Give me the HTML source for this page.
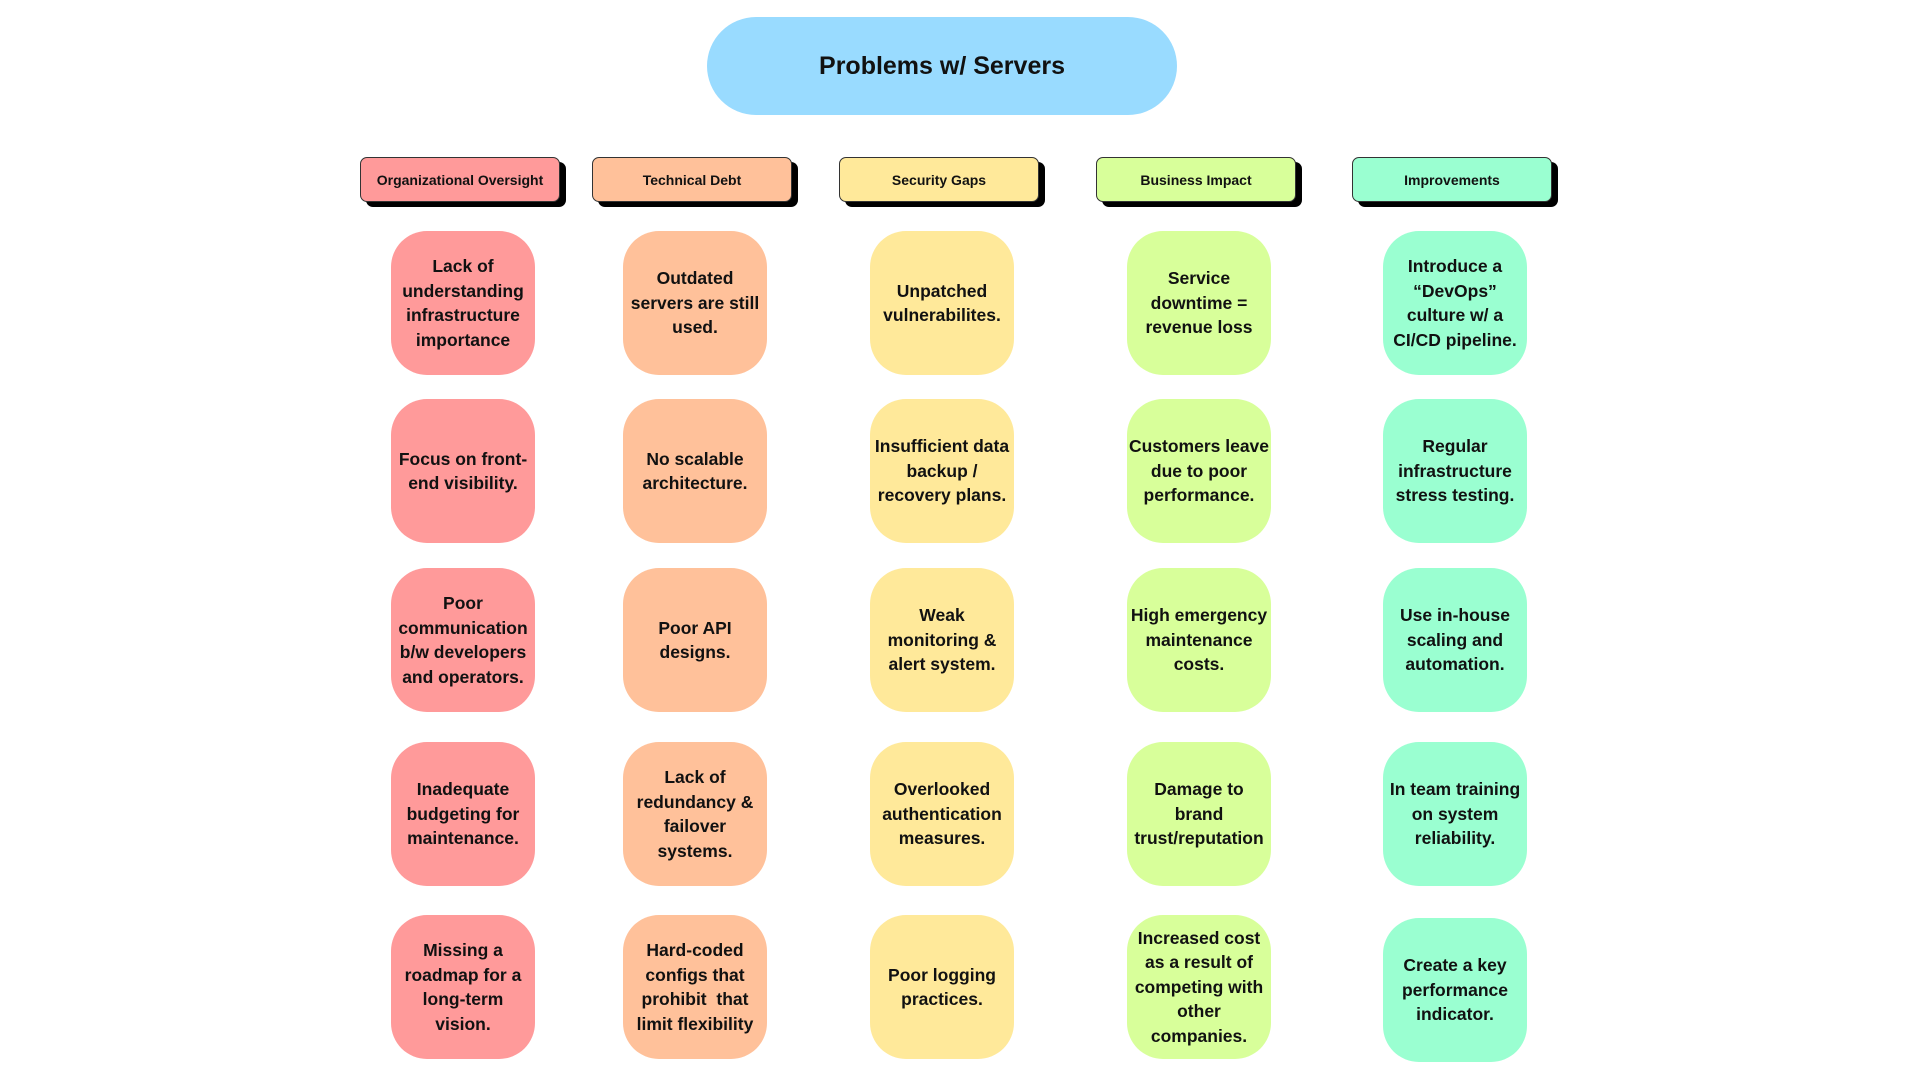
<!DOCTYPE html>
<html><head><meta charset="utf-8"><style>
body{margin:0;width:1920px;height:1080px;background:#fff;position:relative;font-family:"Liberation Sans",sans-serif;font-weight:bold;color:#111;overflow:hidden}
.t{position:absolute;left:707px;top:17px;width:470px;height:98px;border-radius:49px;background:#99dbff;display:flex;align-items:center;justify-content:center;font-size:25px}
.h{position:absolute;top:157px;width:200px;height:45px;border:1px solid #333;border-radius:7px;box-shadow:6px 5px 0 #000;display:flex;align-items:center;justify-content:center;font-size:14px;box-sizing:border-box}
.c{position:absolute;width:144px;height:144px;border-radius:36px;display:flex;align-items:center;justify-content:center;text-align:center;font-size:17.5px;line-height:24.5px;white-space:nowrap}
.r{background:#ff9a9a}.o{background:#ffc19a}.y{background:#ffe99a}.g{background:#d8ff9a}.m{background:#9affd1}
</style></head><body>
<div class="t">Problems w/ Servers</div>
<div class="h r" style="left:360px">Organizational Oversight</div>
<div class="h o" style="left:592px">Technical Debt</div>
<div class="h y" style="left:839px">Security Gaps</div>
<div class="h g" style="left:1096px">Business Impact</div>
<div class="h m" style="left:1352px">Improvements</div>

<div class="c r" style="left:391px;top:231px">Lack of<br>understanding<br>infrastructure<br>importance</div>
<div class="c r" style="left:391px;top:399px">Focus on front-<br>end visibility.</div>
<div class="c r" style="left:391px;top:568px">Poor<br>communication<br>b/w developers<br>and operators.</div>
<div class="c r" style="left:391px;top:742px">Inadequate<br>budgeting for<br>maintenance.</div>
<div class="c r" style="left:391px;top:915px">Missing a<br>roadmap for a<br>long-term<br>vision.</div>

<div class="c o" style="left:623px;top:231px">Outdated<br>servers are still<br>used.</div>
<div class="c o" style="left:623px;top:399px">No scalable<br>architecture.</div>
<div class="c o" style="left:623px;top:568px">Poor API<br>designs.</div>
<div class="c o" style="left:623px;top:742px">Lack of<br>redundancy &amp;<br>failover<br>systems.</div>
<div class="c o" style="left:623px;top:915px">Hard-coded<br>configs that<br>prohibit&nbsp; that<br>limit flexibility</div>

<div class="c y" style="left:870px;top:231px">Unpatched<br>vulnerabilites.</div>
<div class="c y" style="left:870px;top:399px">Insufficient data<br>backup /<br>recovery plans.</div>
<div class="c y" style="left:870px;top:568px">Weak<br>monitoring &amp;<br>alert system.</div>
<div class="c y" style="left:870px;top:742px">Overlooked<br>authentication<br>measures.</div>
<div class="c y" style="left:870px;top:915px">Poor logging<br>practices.</div>

<div class="c g" style="left:1127px;top:231px">Service<br>downtime =<br>revenue loss</div>
<div class="c g" style="left:1127px;top:399px">Customers leave<br>due to poor<br>performance.</div>
<div class="c g" style="left:1127px;top:568px">High emergency<br>maintenance<br>costs.</div>
<div class="c g" style="left:1127px;top:742px">Damage to<br>brand<br>trust/reputation</div>
<div class="c g" style="left:1127px;top:915px">Increased cost<br>as a result of<br>competing with<br>other<br>companies.</div>

<div class="c m" style="left:1383px;top:231px">Introduce a<br>“DevOps”<br>culture w/ a<br>CI/CD pipeline.</div>
<div class="c m" style="left:1383px;top:399px">Regular<br>infrastructure<br>stress testing.</div>
<div class="c m" style="left:1383px;top:568px">Use in-house<br>scaling and<br>automation.</div>
<div class="c m" style="left:1383px;top:742px">In team training<br>on system<br>reliability.</div>
<div class="c m" style="left:1383px;top:918px">Create a key<br>performance<br>indicator.</div>
</body></html>
